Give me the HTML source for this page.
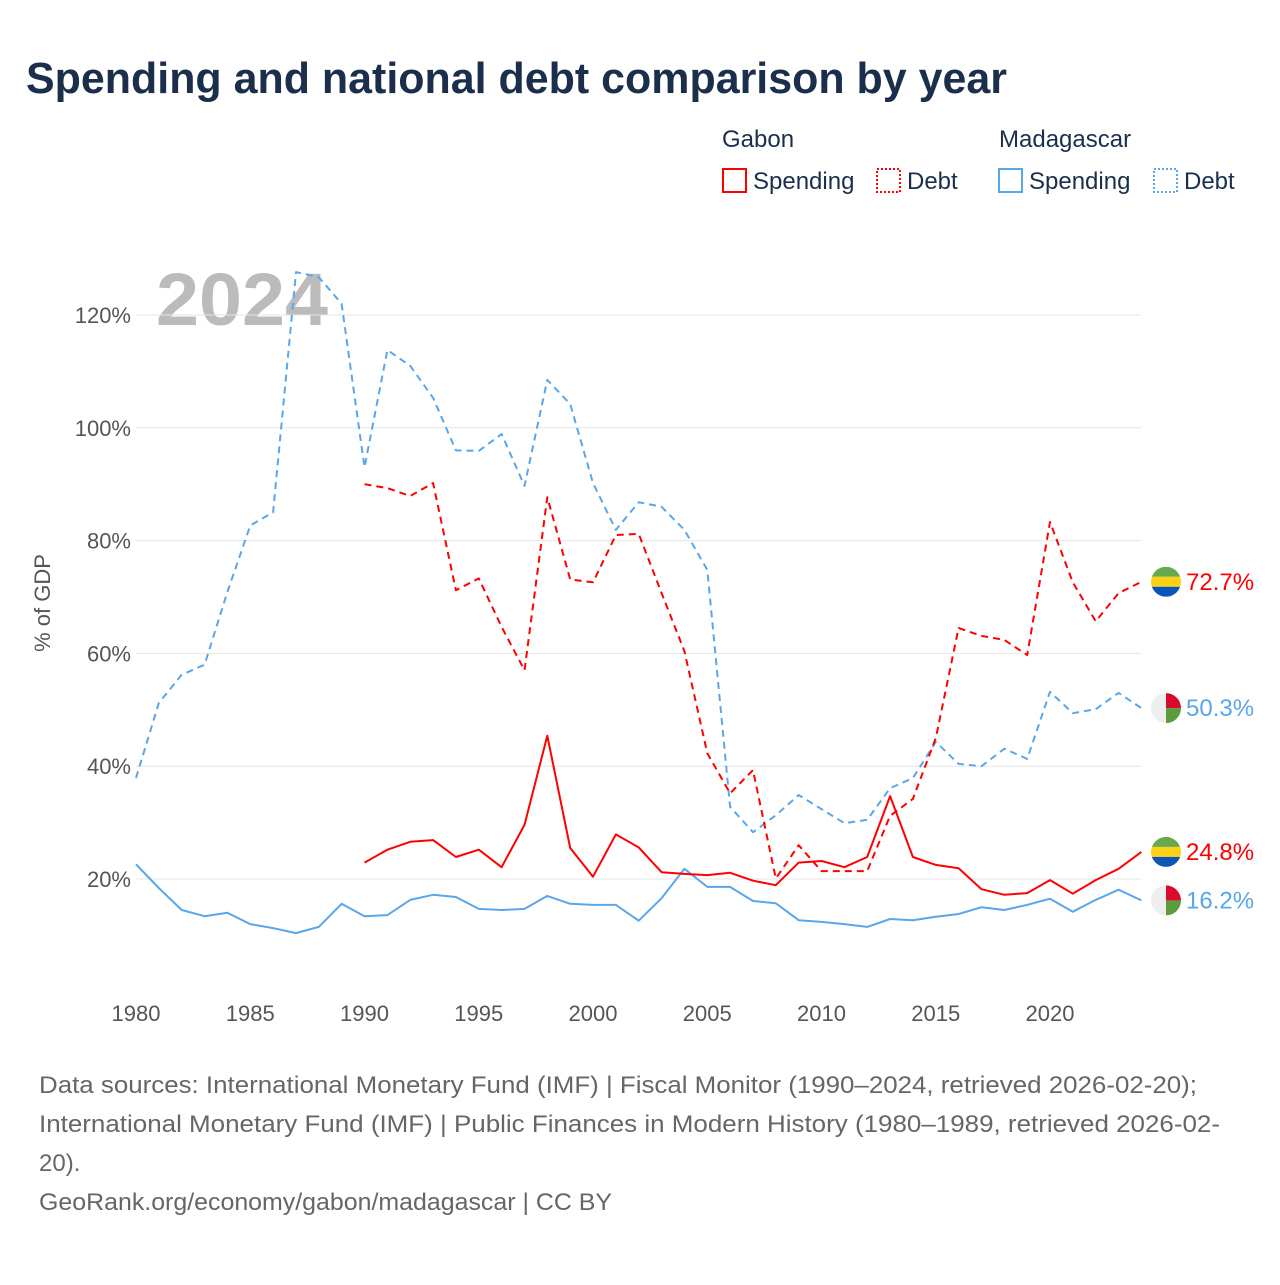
<!DOCTYPE html>
<html><head><meta charset="utf-8"><style>
body{margin:0;background:#fff;font-family:"Liberation Sans",sans-serif}
svg text{font-family:"Liberation Sans",sans-serif}
</style></head><body>
<svg id="c" width="1280" height="1280" xmlns="http://www.w3.org/2000/svg">
<text x="26" y="93" font-size="44" font-weight="bold" fill="#1b2f4d" textLength="981" lengthAdjust="spacingAndGlyphs">Spending and national debt comparison by year</text>
<g font-size="24" fill="#1b2f4d">
<text x="722" y="147">Gabon</text>
<text x="999" y="147">Madagascar</text>
<rect x="723" y="169" width="23" height="23" fill="none" stroke="#f00" stroke-width="2"/>
<text x="753" y="189">Spending</text>
<rect x="877" y="169" width="23" height="23" fill="none" stroke="#f00" stroke-width="2" stroke-dasharray="2,2"/>
<text x="907" y="189">Debt</text>
<rect x="999" y="169" width="23" height="23" fill="none" stroke="#5aa6ea" stroke-width="2"/>
<text x="1029" y="189">Spending</text>
<rect x="1154" y="169" width="23" height="23" fill="none" stroke="#5aa6ea" stroke-width="2" stroke-dasharray="2,2"/>
<text x="1184" y="189">Debt</text>
</g>
<text x="156" y="325" font-size="74" font-weight="bold" fill="#bbb" textLength="172" lengthAdjust="spacingAndGlyphs">2024</text>
<text transform="translate(50,603) rotate(-90)" text-anchor="middle" font-size="22" fill="#555">% of GDP</text>
<g id="grid"></g><g id="lines"></g><g id="ends"></g>
<g font-size="24" fill="#666">
<text x="39" y="1093" textLength="1158" lengthAdjust="spacingAndGlyphs">Data sources: International Monetary Fund (IMF) | Fiscal Monitor (1990–2024, retrieved 2026-02-20);</text>
<text x="39" y="1132" textLength="1181" lengthAdjust="spacingAndGlyphs">International Monetary Fund (IMF) | Public Finances in Modern History (1980–1989, retrieved 2026-02-</text>
<text x="39" y="1171">20).</text>
<text x="39" y="1210" textLength="573" lengthAdjust="spacingAndGlyphs">GeoRank.org/economy/gabon/madagascar | CC BY</text>
</g>
</svg>
<script>
const yTicks=[20,40,60,80,100,120];
const xTicks=[1980,1985,1990,1995,2000,2005,2010,2015,2020];
const madDebt=[37.9,51.2,56.2,58,70.9,82.7,85,127.6,126.7,122,93,113.8,111,105.3,96,95.9,98.9,89.7,108.5,104.2,90.2,81.9,86.8,86,81.9,74.8,32.8,28.3,31.3,34.9,32.4,29.9,30.5,36.1,37.9,44.3,40.4,40,43.1,41.3,53.2,49.4,50.1,53,50.3];
const madSpend=[22.6,18.4,14.5,13.4,14,12,11.3,10.4,11.5,15.6,13.4,13.6,16.3,17.2,16.8,14.7,14.5,14.7,17,15.6,15.4,15.4,12.6,16.6,21.8,18.6,18.6,16.1,15.7,12.7,12.4,12,11.5,12.9,12.7,13.3,13.8,15,14.5,15.4,16.5,14.2,16.3,18.1,16.2];
const gabDebt=[90,89.3,87.9,90.2,71.2,73.3,64.7,57,87.7,73.1,72.6,81,81.2,70.7,60.4,42.3,35.2,39.3,20.1,26,21.4,21.4,21.4,31.2,34.2,45,64.5,63.1,62.4,59.7,83.3,72.6,65.7,70.7,72.7];
const gabSpend=[22.9,25.2,26.6,26.9,23.9,25.2,22.1,29.6,45.4,25.5,20.4,27.9,25.6,21.2,20.9,20.7,21.1,19.7,18.9,22.9,23.2,22.1,23.9,34.7,23.9,22.5,21.9,18.2,17.2,17.5,19.8,17.4,19.8,21.8,24.8];
const NS="http://www.w3.org/2000/svg";
const X=y=>136+(y-1980)*22.85, Y=v=>991.8-v*5.64;
function mk(t,a,p){const e=document.createElementNS(NS,t);for(const k in a)e.setAttribute(k,a[k]);p.appendChild(e);return e;}
const grid=document.getElementById('grid');
yTicks.forEach(v=>{
 const l=mk('line',{x1:136,x2:1141,y1:Y(v),y2:Y(v),stroke:'#e6e6e6'},grid);
 
 
 const t=mk('text',{x:131,y:Y(v)+8,'text-anchor':'end','font-size':22,fill:'#555'},grid);t.textContent=v+'%';
 
 
});
xTicks.forEach(v=>{
 const t=mk('text',{x:X(v),y:1021,'text-anchor':'middle','font-size':22,fill:'#555'},grid);t.textContent=v;
 
 
});
const lines=document.getElementById('lines');
function series(arr,start,color,dash,name){
 const d=arr.map((v,i)=>(i?'L':'M')+X(start+i).toFixed(1)+','+Y(v).toFixed(1)).join('');
 const p=mk('path',{d:d,fill:'none',stroke:color,'stroke-width':2,'stroke-dasharray':dash||'none','stroke-linejoin':'round'},lines);
 
 
}
series(madDebt,1980,'#5aa6ea','7,5','line-madagascar-debt');
series(gabDebt,1990,'#f00','7,5','line-gabon-debt');
series(madSpend,1980,'#5aa6ea',null,'line-madagascar-spending');
series(gabSpend,1990,'#f00',null,'line-gabon-spending');
const ends=document.getElementById('ends');
function flag(v,type,color,name){
 const cy=Y(v),cx=1166,r=15,g=mk('g',{},ends);
 
 
 const cp=mk('clipPath',{id:'cp'+name},g);mk('circle',{cx:cx,cy:cy,r:r},cp);
 const h=mk('g',{'clip-path':'url(#cp'+name+')'},g);
 if(type==='gab'){
  mk('rect',{x:cx-r,y:cy-r,width:30,height:10,fill:'#6aa84f'},h);
  mk('rect',{x:cx-r,y:cy-5,width:30,height:10,fill:'#fcd116'},h);
  mk('rect',{x:cx-r,y:cy+5,width:30,height:10,fill:'#0a55b5'},h);
 }else{
  mk('rect',{x:cx-r,y:cy-r,width:30,height:30,fill:'#eee'},h);
  mk('rect',{x:cx,y:cy-r,width:15,height:15,fill:'#d80b2e'},h);
  mk('rect',{x:cx,y:cy,width:15,height:15,fill:'#5d9c3a'},h);
 }
 const t=mk('text',{x:1186,y:cy+8,'font-size':24,fill:color},ends);t.textContent=v.toFixed(1)+'%';
 
 
}
flag(gabDebt[gabDebt.length-1],'gab','#f00','gabon-debt');
flag(madDebt[madDebt.length-1],'mad','#5aa6ea','madagascar-debt');
flag(gabSpend[gabSpend.length-1],'gab','#f00','gabon-spending');
flag(madSpend[madSpend.length-1],'mad','#5aa6ea','madagascar-spending');
</script>
</body></html>
